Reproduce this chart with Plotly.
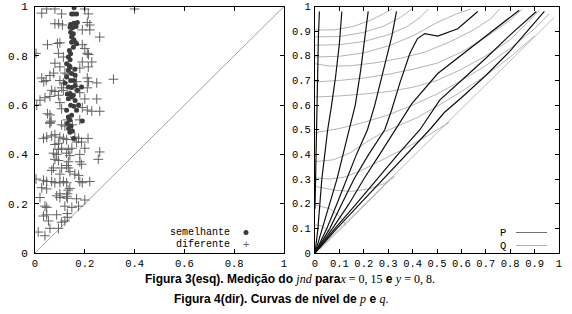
import plotly.graph_objects as go

W, H = 572, 314

# ---------------- left panel data (Figura 3) ----------------
sem_x = [0.157,0.147,0.156,0.167,0.143,0.156,0.170,0.141,0.151,0.165,0.143,0.154,0.147,0.156,0.147,0.161,
         0.154,0.167,0.138,0.143,0.134,0.141,0.127,0.141,0.134,0.147,0.161,0.127,0.143,0.156,0.134,0.147,
         0.161,0.170,0.141,0.154,0.147,0.134,0.161,0.143,0.156,0.127,0.167,0.134,0.147,0.187,0.140,0.130,
         0.145,0.135,0.150,0.140,0.155,0.190,0.175,0.120,0.150,0.138,0.160,0.130]
sem_y = [0.995,0.970,0.970,0.970,0.927,0.932,0.935,0.916,0.914,0.919,0.896,0.889,0.876,0.865,0.855,0.855,
         0.835,0.849,0.822,0.808,0.795,0.784,0.768,0.754,0.741,0.728,0.721,0.714,0.700,0.700,0.673,0.671,
         0.680,0.660,0.647,0.640,0.633,0.626,0.619,0.599,0.595,0.579,0.579,0.552,0.559,0.673,0.540,0.525,
         0.515,0.505,0.495,0.490,0.465,0.535,0.600,0.690,0.885,0.760,0.745,0.645]

dif_x = [0.047,0.080,0.200,0.400,0.027,0.107,0.214,0.080,0.095,0.110,0.210,0.220,0.190,0.260,0.220,
         0.090,0.100,0.050,0.190,0.200,0.004,0.094,0.114,0.080,0.210,0.215,0.190,0.228,0.100,0.214,0.180,
         0.120,0.133,0.027,0.035,0.045,0.060,0.075,0.100,0.115,0.167,0.210,0.215,0.248,0.315,
         0.067,0.080,0.107,0.114,0.160,0.210,0.180,0.020,0.040,0.060,0.094,0.140,0.200,0.248,
         0.007,0.100,0.190,0.210,0.228,0.260,0.050,0.060,0.107,0.060,0.065,0.130,0.150,0.180,
         0.060,0.107,0.120,0.213,0.034,0.047,0.067,0.080,0.100,0.114,0.127,0.160,0.175,
         0.080,0.094,0.167,0.187,0.094,0.107,0.134,0.148,0.200,0.074,0.087,0.127,0.140,0.180,0.260,0.254,
         0.080,0.094,0.134,0.127,0.180,0.187,0.067,0.074,0.107,0.134,0.140,0.100,0.160,0.175,
         0.004,0.034,0.047,0.067,0.080,0.100,0.114,0.127,0.180,0.190,0.220,
         0.027,0.047,0.133,0.140,0.100,0.130,0.127,0.087,0.100,0.130,0.020,0.167,0.200,
         0.040,0.047,0.120,0.148,0.175,0.034,0.047,0.087,0.130,0.130,
         0.054,0.060,0.120,0.094,0.013,0.040,0.107]
dif_y = [0.990,0.990,0.990,0.990,0.973,0.970,0.970,0.930,0.930,0.925,0.935,0.925,0.905,0.876,0.905,
         0.850,0.853,0.845,0.845,0.830,0.810,0.810,0.795,0.770,0.810,0.805,0.775,0.775,0.755,0.755,0.750,
         0.730,0.725,0.710,0.695,0.700,0.720,0.730,0.700,0.690,0.695,0.710,0.695,0.690,0.705,
         0.660,0.655,0.670,0.660,0.675,0.670,0.650,0.620,0.630,0.635,0.640,0.640,0.625,0.625,
         0.600,0.610,0.590,0.580,0.575,0.575,0.565,0.560,0.585,0.530,0.535,0.540,0.520,0.540,
         0.526,0.520,0.515,0.465,0.465,0.470,0.475,0.480,0.470,0.465,0.460,0.470,0.465,
         0.440,0.445,0.450,0.450,0.420,0.425,0.420,0.425,0.425,0.405,0.400,0.405,0.395,0.400,0.410,0.380,
         0.380,0.375,0.370,0.355,0.370,0.360,0.335,0.345,0.345,0.345,0.330,0.320,0.320,0.315,
         0.300,0.295,0.290,0.290,0.285,0.285,0.290,0.285,0.290,0.285,0.290,
         0.265,0.260,0.255,0.262,0.240,0.240,0.230,0.232,0.225,0.222,0.225,0.220,0.215,
         0.190,0.185,0.190,0.185,0.190,0.150,0.155,0.155,0.160,0.145,
         0.130,0.100,0.130,0.100,0.085,0.070,0.125]

diag_x = [0, 1]
diag_y = [0, 1]

# ---------------- right panel data (Figura 4): level curves ----------------
P_curves = {
    "P1": ([0.0,0.002,0.004,0.006,0.008,0.011,0.014,0.018], [0.18,0.3,0.4,0.5,0.6,0.74,0.88,0.98]),
    "P2": ([0,0.012,0.02,0.028,0.04,0.052,0.068,0.085,0.1,0.11], [0,0.1,0.2,0.3,0.4,0.5,0.6,0.72,0.85,0.98]),
    "P3": ([0,0.029,0.06,0.09,0.115,0.14,0.165,0.187,0.205,0.218], [0,0.1,0.2,0.3,0.4,0.5,0.6,0.74,0.88,0.98]),
    "P4": ([0,0.049,0.09,0.13,0.17,0.215,0.245,0.28,0.315,0.334], [0,0.1,0.2,0.3,0.4,0.5,0.6,0.74,0.88,0.98]),
    "P5": ([0,0.061,0.11,0.16,0.22,0.286,0.314,0.348,0.389,0.42,0.45,0.48,0.503,0.585,0.63,0.667],
           [0,0.1,0.2,0.3,0.4,0.5,0.58,0.69,0.81,0.87,0.89,0.885,0.88,0.91,0.95,0.98]),
    "P6": ([0,0.072,0.14,0.2,0.265,0.33,0.397,0.503,0.667,0.837], [0,0.1,0.2,0.3,0.4,0.5,0.606,0.728,0.855,0.985]),
    "P7": ([0,0.082,0.17,0.255,0.34,0.43,0.511,0.6,0.7,0.8,0.907], [0,0.1,0.2,0.3,0.4,0.5,0.62,0.7,0.79,0.885,0.98]),
    "P8": ([0,0.09,0.185,0.28,0.375,0.47,0.53,0.6,0.7,0.8,0.94], [0,0.1,0.2,0.3,0.4,0.5,0.57,0.63,0.72,0.82,0.98]),
}
Q_curves = {
    "Qa": ([0,0.08,0.16,0.23,0.28,0.315], [0.905,0.905,0.92,0.945,0.97,0.99]),
    "Qb": ([0,0.1,0.2,0.28,0.35,0.397], [0.877,0.878,0.895,0.92,0.955,0.99]),
    "Qc": ([0,0.1,0.2,0.3,0.38,0.43,0.465], [0.843,0.845,0.858,0.885,0.92,0.955,0.99]),
    "Qd": ([0,0.1,0.2,0.3,0.4,0.5,0.58,0.64], [0.795,0.798,0.812,0.84,0.88,0.935,0.97,0.99]),
    "Qe": ([0,0.06,0.15,0.25,0.35,0.45,0.55,0.65,0.72,0.757], [0.768,0.758,0.76,0.772,0.79,0.815,0.855,0.905,0.95,0.99]),
    "Qf": ([0,0.1,0.2,0.3,0.4,0.5,0.6,0.7,0.8,0.85], [0.694,0.7,0.71,0.725,0.745,0.77,0.815,0.875,0.945,0.99]),
    "Qg": ([0,0.1,0.2,0.3,0.4,0.5,0.6,0.7,0.8,0.92], [0.633,0.637,0.645,0.655,0.672,0.7,0.745,0.8,0.865,0.985]),
    "Qh": ([0,0.1,0.2,0.3,0.4,0.5,0.6,0.7,0.8,0.9,0.96], [0.488,0.505,0.53,0.56,0.6,0.645,0.7,0.76,0.83,0.91,0.97]),
    "Qi": ([0,0.075,0.143,0.211,0.28,0.35,0.42,0.5,0.6,0.7,0.8,0.9], [0.371,0.378,0.406,0.45,0.49,0.52,0.55,0.595,0.655,0.72,0.795,0.88]),
    "Qj": ([0,0.06,0.12,0.18,0.24,0.3,0.38,0.46,0.55], [0.305,0.3,0.308,0.33,0.36,0.39,0.43,0.475,0.53]),
    "Qk": ([0,0.08,0.15,0.22,0.28,0.325,0.3,0.2,0.1,0.02], [0.27,0.255,0.25,0.26,0.28,0.31,0.29,0.19,0.095,0.015]),
    "Ql": ([0,0.06,0.1,0.12,0.125], [0.195,0.18,0.15,0.125,0.11]),
    "Qm": ([0,0.03,0.055,0.065], [0.114,0.11,0.09,0.068]),
}
Q_diag_x = [0, 0.98]
Q_diag_y = [0, 0.955]

left_ticks = [0, 0.2, 0.4, 0.6, 0.8, 1]
left_ticktext = ["0", "0.2", "0.4", "0.6", "0.8", "1"]
right_ticks = [0, 0.1, 0.2, 0.3, 0.4, 0.5, 0.6, 0.7, 0.8, 0.9, 1]
right_ticktext = ["0", "0.1", "0.2", "0.3", "0.4", "0.5", "0.6", "0.7", "0.8", "0.9", "1"]

fig = go.Figure()

# left panel
fig.add_trace(go.Scatter(x=diag_x, y=diag_y, mode="lines", line=dict(color="#8a8a8a", width=0.8),
                         xaxis="x", yaxis="y", hoverinfo="skip"))
fig.add_trace(go.Scatter(x=dif_x, y=dif_y, mode="markers", xaxis="x", yaxis="y",
                         marker=dict(symbol="cross-thin", size=7, line=dict(color="#626262", width=1))))
fig.add_trace(go.Scatter(x=sem_x, y=sem_y, mode="markers", xaxis="x", yaxis="y",
                         marker=dict(symbol="circle", size=5, color="#3c3c3c")))

# right panel
for name, (cx, cy) in Q_curves.items():
    fig.add_trace(go.Scatter(x=cx, y=cy, mode="lines", xaxis="x2", yaxis="y2",
                             line=dict(color="#b4b4b4", width=1)))
fig.add_trace(go.Scatter(x=Q_diag_x, y=Q_diag_y, mode="lines", xaxis="x2", yaxis="y2",
                         line=dict(color="#a0a0a0", width=0.7)))
for name, (cx, cy) in P_curves.items():
    fig.add_trace(go.Scatter(x=cx, y=cy, mode="lines", xaxis="x2", yaxis="y2",
                             line=dict(color="#111111", width=1.2)))

def px2x(px):
    return px / W

def py2y(py):
    return 1 - py / H

axis_common = dict(range=[0, 1], showgrid=False, zeroline=False, showline=True, linecolor="black",
                   linewidth=1, ticks="inside", ticklen=4, tickcolor="black", mirror="ticks",
                   automargin=False)

fig.update_layout(
    width=W, height=H, margin=dict(l=0, r=0, t=0, b=0),
    paper_bgcolor="white", plot_bgcolor="white", showlegend=False,
    xaxis=dict(domain=[px2x(35), px2x(284)], anchor="y", tickvals=left_ticks, ticktext=left_ticktext,
               tickfont=dict(family="Liberation Mono", size=10.5, color="black"), ticklabelstandoff=0, **axis_common),
    yaxis=dict(domain=[py2y(253), py2y(6.5)], anchor="x", tickvals=left_ticks, ticktext=left_ticktext,
               tickfont=dict(family="Liberation Mono", size=11, color="black"), ticklabelstandoff=4, **axis_common),
    xaxis2=dict(domain=[px2x(315), px2x(559)], anchor="y2", tickvals=right_ticks, ticktext=right_ticktext,
                tickfont=dict(family="Liberation Mono", size=10.5, color="black"), ticklabelstandoff=0, **axis_common),
    yaxis2=dict(domain=[py2y(253), py2y(6.5)], anchor="x2", tickvals=right_ticks, ticktext=right_ticktext,
                tickfont=dict(family="Liberation Mono", size=10.5, color="black"), ticklabelstandoff=1, **axis_common),
)

annotations = []
# left legend
annotations.append(dict(x=px2x(232), y=py2y(232.5), xref="paper", yref="paper", xanchor="right", yanchor="middle",
                        text="semelhante", showarrow=False,
                        font=dict(family="Liberation Mono", size=10, color="black")))
annotations.append(dict(x=px2x(232), y=py2y(244), xref="paper", yref="paper", xanchor="right", yanchor="middle",
                        text="diferente", showarrow=False,
                        font=dict(family="Liberation Mono", size=10, color="black")))
annotations.append(dict(x=px2x(246), y=py2y(244), xref="paper", yref="paper", xanchor="center", yanchor="middle",
                        text="+", showarrow=False,
                        font=dict(family="Liberation Sans", size=11, color="#606060")))
# right legend
annotations.append(dict(x=px2x(503), y=py2y(232.5), xref="paper", yref="paper", xanchor="center", yanchor="middle",
                        text="P", showarrow=False,
                        font=dict(family="Liberation Mono", size=10.5, color="black")))
annotations.append(dict(x=px2x(503), y=py2y(245.5), xref="paper", yref="paper", xanchor="center", yanchor="middle",
                        text="Q", showarrow=False,
                        font=dict(family="Liberation Mono", size=10.5, color="black")))
# captions
serif = 'style="font-family:Liberation Serif;font-weight:normal"'
cap1 = ('<b>Figura 3(esq). Medição do </b><span %s><i>jnd</i></span><b> para</b>'
        '<span %s><i>x</i> = 0, 15</span><b> e </b><span %s><i>y</i> = 0, 8.</span>') % (serif, serif, serif)
cap2 = ('<b>Figura 4(dir). Curvas de nível de </b><span %s><i>p</i></span><b> e </b>'
        '<span %s><i>q</i>.</span>') % (serif, serif)
annotations.append(dict(x=px2x(290), y=py2y(279), xref="paper", yref="paper", xanchor="center", yanchor="middle",
                        text=cap1, showarrow=False,
                        font=dict(family="Liberation Sans", size=12, color="black")))
annotations.append(dict(x=px2x(281), y=py2y(299), xref="paper", yref="paper", xanchor="center", yanchor="middle",
                        text=cap2, showarrow=False,
                        font=dict(family="Liberation Sans", size=12, color="black")))

shapes = [
    dict(type="circle", xref="paper", yref="paper", x0=px2x(243.5), x1=px2x(248.5), y0=py2y(235), y1=py2y(230),
         fillcolor="#3c3c3c", line=dict(width=0)),
    dict(type="line", xref="paper", yref="paper", x0=px2x(516), x1=px2x(547), y0=py2y(232.5), y1=py2y(232.5),
         line=dict(color="#6e6e6e", width=1)),
    dict(type="line", xref="paper", yref="paper", x0=px2x(516), x1=px2x(547), y0=py2y(245.5), y1=py2y(245.5),
         line=dict(color="#b4b4b4", width=1)),
]
fig.update_layout(annotations=annotations, shapes=shapes)

fig.write_html("out.html", config={"displayModeBar": False},
               post_script="document.body.style.margin='0';")
